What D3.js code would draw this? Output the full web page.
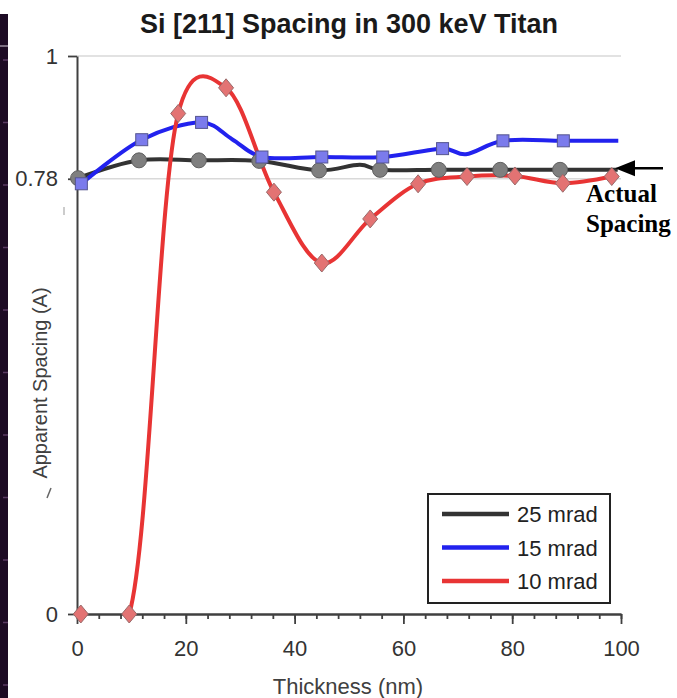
<!DOCTYPE html>
<html>
<head>
<meta charset="utf-8">
<script src="https://cdn.jsdelivr.net/npm/d3@7"></script>
<style>
  body { margin: 0; background: #fff; }
  svg { display: block; font-family: "Liberation Sans", Arial, sans-serif; }
</style>
</head>
<body>
<div id="chart"></div>
<script>
// thickness (nm) and apparent spacing (A)
// 25 mrad: line points, 1 = point carries a marker
const thick25 = [0.2, 11.4, 22.4, 33.5, 44.5, 52.0, 55.7, 66.5, 77.8, 88.8, 99.4];
const spacing25 = [0.781, 0.813, 0.813, 0.812, 0.795, 0.805, 0.796, 0.796, 0.796, 0.796, 0.796];
const marker25 = [1, 1, 1, 1, 1, 0, 1, 1, 1, 1, 0];

// 15 mrad
const thick15 = [0.8, 11.9, 22.9, 28.5, 34.0, 45.0, 56.2, 67.2, 71.5, 78.3, 89.4, 99.5];
const spacing15 = [0.771, 0.850, 0.881, 0.851, 0.819, 0.819, 0.819, 0.834, 0.824, 0.848, 0.848, 0.848];
const marker15 = [1, 1, 1, 0, 1, 1, 1, 1, 0, 1, 1, 0];

// 10 mrad
const thick10 = [0.7, 9.6, 18.6, 27.4, 36.2, 45.0, 53.9, 62.7, 71.7, 80.5, 89.3, 98.3];
const spacing10 = [0, 0, 0.897, 0.943, 0.756, 0.629, 0.708, 0.771, 0.784, 0.785, 0.772, 0.784];
const marker10 = thick10.map(() => 1);

const seriesNames = ['25 mrad', '15 mrad', '10 mrad'];
const yTicks = [0, 0.78, 1];
const xTicks = [0, 20, 40, 60, 80, 100];
const actualSpacing = 0.799;

const W = 677, H = 698;
const plotL = 77, plotR = 621, plotT = 56, plotB = 614;

const svg = d3.select('#chart').append('svg')
  .attr('width', W).attr('height', H);

svg.append('rect').attr('width', W).attr('height', H).attr('fill', '#fff');

// dark strip on the left edge of the scan
svg.append('rect').attr('x', 0).attr('y', 14).attr('width', 8).attr('height', H - 14).attr('fill', '#1d0b24');
svg.append('line').attr('x1', 0).attr('x2', 8).attr('y1', 46).attr('y2', 46).attr('stroke', '#d8d0dc').attr('stroke-width', 1);
d3.range(60, H, 62.5).forEach(v => {
  svg.append('line').attr('x1', 3).attr('x2', 8).attr('y1', v).attr('y2', v)
    .attr('stroke', '#5a3a62').attr('stroke-width', 1.5);
});

const x = d3.scaleLinear().domain([0, 100]).range([plotL, plotR]);
const y = d3.scaleLinear().domain([0, 1]).range([plotB, plotT]);

// title
svg.append('text')
  .attr('x', 349).attr('y', 33)
  .attr('text-anchor', 'middle')
  .attr('font-size', 27).attr('font-weight', 'bold')
  .attr('fill', '#1a1a1a')
  .text('Si [211] Spacing in 300 keV Titan');

// gridlines
svg.append('g').selectAll('line')
  .data(yTicks.filter(d => d > 0))
  .enter().append('line')
  .attr('x1', plotL).attr('x2', plotR)
  .attr('y1', d => y(d)).attr('y2', d => y(d))
  .attr('stroke', '#d9d9d9').attr('stroke-width', 1.5);

// axes
const yAxis = svg.append('g')
  .attr('transform', `translate(${plotL},0)`)
  .call(d3.axisLeft(y).tickValues(yTicks).tickSize(9).tickSizeOuter(0).tickPadding(10)
    .tickFormat(d => String(d)));

const xMinor = svg.append('g')
  .attr('transform', `translate(0,${plotB})`)
  .call(d3.axisBottom(x).tickValues(d3.range(0, 101, 4)).tickSize(5).tickSizeOuter(0).tickFormat(''));

const xAxis = svg.append('g')
  .attr('transform', `translate(0,${plotB})`)
  .call(d3.axisBottom(x).tickValues(xTicks).tickSize(10).tickSizeOuter(0).tickPadding(16));

[yAxis, xMinor, xAxis].forEach(g => {
  g.select('.domain').attr('stroke', '#404040').attr('stroke-width', 2);
  g.selectAll('.tick line').attr('stroke', '#404040').attr('stroke-width', 1.8);
  g.selectAll('.tick text').attr('font-size', 22).attr('fill', '#333')
    .attr('font-family', '"Liberation Sans", Arial, sans-serif');
});

svg.append('text')
  .attr('x', 348).attr('y', 694)
  .attr('text-anchor', 'middle')
  .attr('font-size', 22).attr('fill', '#404040')
  .text('Thickness (nm)');

svg.append('text')
  .attr('transform', 'translate(47,383) rotate(-90)')
  .attr('text-anchor', 'middle')
  .attr('font-size', 20).attr('fill', '#404040')
  .text('Apparent Spacing (A)');

// leftover marks from the scan
svg.append('line').attr('x1', 47).attr('x2', 51).attr('y1', 498).attr('y2', 488)
  .attr('stroke', '#666').attr('stroke-width', 1.5);
svg.append('line').attr('x1', 64).attr('x2', 64).attr('y1', 207).attr('y2', 215)
  .attr('stroke', '#999').attr('stroke-width', 1);

// series
const series = [
  { name: seriesNames[0], xs: thick25, ys: spacing25, marks: marker25, color: '#333333', shape: 'circle' },
  { name: seriesNames[1], xs: thick15, ys: spacing15, marks: marker15, color: '#2222ee', shape: 'square' },
  { name: seriesNames[2], xs: thick10, ys: spacing10, marks: marker10, color: '#e83434', shape: 'diamond' }
];
series.forEach(s => {
  s.points = s.xs.map((t, i) => ({ t: t, v: s.ys[i], mark: s.marks[i] }));
});

svg.append('clipPath').attr('id', 'plot-clip')
  .append('rect').attr('x', plotL).attr('y', plotT).attr('width', plotR - plotL).attr('height', plotB - plotT);

const line = d3.line()
  .x(d => x(d.t))
  .y(d => y(d.v))
  .curve(d3.curveCatmullRom.alpha(0.15));

const lines = svg.append('g').attr('clip-path', 'url(#plot-clip)');
series.forEach(s => {
  lines.append('path')
    .datum(s.points)
    .attr('d', line)
    .attr('fill', 'none')
    .attr('stroke', s.color)
    .attr('stroke-width', 4)
    .attr('stroke-linejoin', 'round');
});

const markers = svg.append('g');
series.forEach(s => {
  const pts = s.points.filter(d => d.mark);
  if (s.shape === 'circle') {
    markers.selectAll('.m25').data(pts).enter().append('circle')
      .attr('class', 'm25')
      .attr('cx', d => x(d.t)).attr('cy', d => y(d.v)).attr('r', 7.5)
      .attr('fill', '#7f7f7f').attr('stroke', '#5f5f5f').attr('stroke-width', 1);
  } else if (s.shape === 'square') {
    markers.selectAll('.m15').data(pts).enter().append('rect')
      .attr('class', 'm15')
      .attr('x', d => x(d.t) - 6).attr('y', d => y(d.v) - 6)
      .attr('width', 12).attr('height', 12)
      .attr('fill', '#7b7bec').attr('stroke', '#55558f').attr('stroke-width', 1);
  } else {
    markers.selectAll('.m10').data(pts).enter().append('path')
      .attr('class', 'm10')
      .attr('d', d => `M${x(d.t)},${y(d.v) - 9}L${x(d.t) + 7.5},${y(d.v)}L${x(d.t)},${y(d.v) + 9}L${x(d.t) - 7.5},${y(d.v)}Z`)
      .attr('fill', '#e37373').attr('stroke', '#9a6a6a').attr('stroke-width', 1);
  }
});

// legend
const legend = svg.append('g').attr('transform', 'translate(428,494)');
legend.append('rect')
  .attr('width', 182).attr('height', 109)
  .attr('fill', '#fff').attr('stroke', '#222').attr('stroke-width', 2);
const item = legend.selectAll('.item').data(series).enter().append('g')
  .attr('transform', (d, i) => `translate(0,${20 + i * 33.5})`);
item.append('line')
  .attr('x1', 14).attr('x2', 81)
  .attr('stroke', d => d.color).attr('stroke-width', 4.5);
item.append('text')
  .attr('x', 89).attr('y', 8)
  .attr('font-size', 22).attr('fill', '#222')
  .text(d => d.name);

// actual spacing annotation
const ann = svg.append('g');
const ay = y(actualSpacing);
ann.append('line')
  .attr('x1', x(100) + 42).attr('x2', x(100) + 8)
  .attr('y1', ay).attr('y2', ay)
  .attr('stroke', '#000').attr('stroke-width', 2.5);
ann.append('path')
  .attr('d', `M${x(100) - 6},${ay}L${x(100) + 14},${ay - 8}L${x(100) + 14},${ay + 8}Z`)
  .attr('fill', '#000');
ann.append('text')
  .attr('x', 586).attr('y', 202)
  .attr('font-family', '"Liberation Serif", "Times New Roman", serif')
  .attr('font-weight', 'bold').attr('font-size', 25)
  .text('Actual');
ann.append('text')
  .attr('x', 586).attr('y', 232)
  .attr('font-family', '"Liberation Serif", "Times New Roman", serif')
  .attr('font-weight', 'bold').attr('font-size', 25)
  .text('Spacing');
</script>
</body>
</html>
